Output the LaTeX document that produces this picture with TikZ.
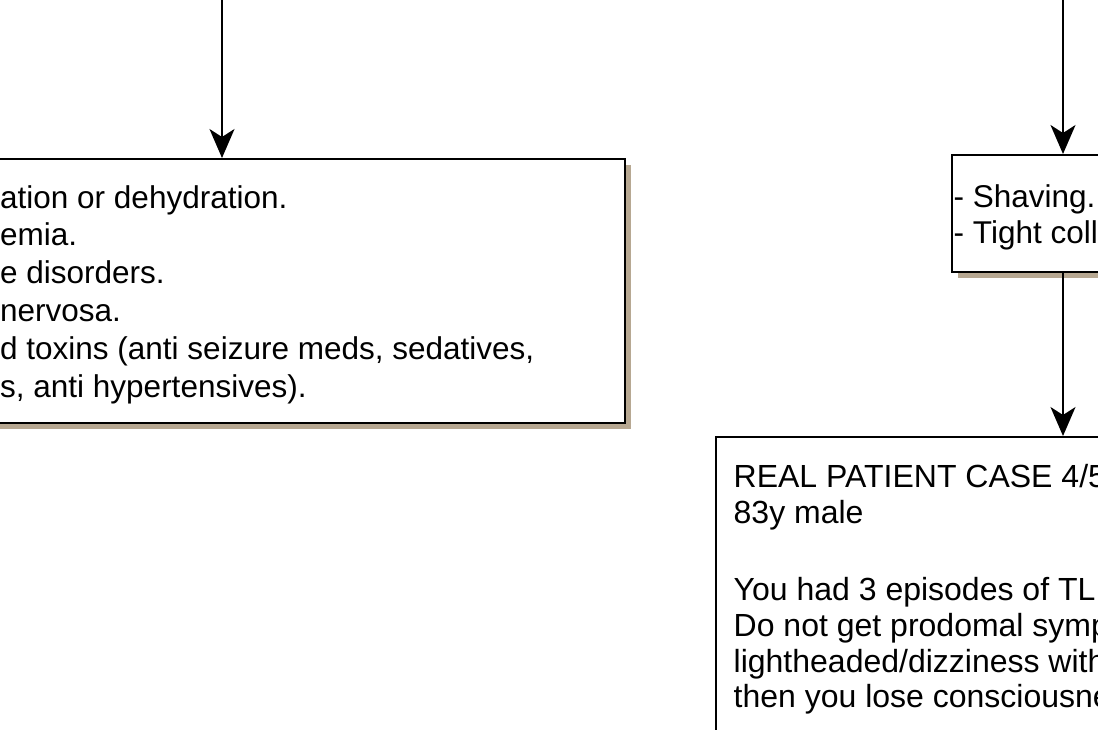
\documentclass[tikz,border=0pt]{standalone}
\usepackage{fontspec}
\setmainfont{Liberation Sans}
\usetikzlibrary{arrows.meta,shadows}
\definecolor{shadowtan}{RGB}{183,168,146}
\begin{document}
\begin{tikzpicture}[x=1pt,y=-1pt,
  box/.style={draw=black, line width=2pt, fill=white, inner sep=0pt,
    general shadow={fill=shadowtan, shadow xshift=6pt, shadow yshift=-6pt}},
  flatbox/.style={draw=black, line width=2pt, fill=white, inner sep=0pt},
  txt/.style={anchor=base west, inner sep=0pt, font=\fontsize{31.5}{35.5}\selectfont},
  bigtxt/.style={txt, font=\fontsize{32}{36}\selectfont},
  flow/.style={line width=1.7pt, -{Stealth[length=29pt,width=25pt,inset=8pt]}}]
\useasboundingbox (0,0) rectangle (1098,729);
\clip (0,0) rectangle (1098,729);

% boxes
\node[box, anchor=north east, minimum width=700pt, minimum height=264pt] (causes) at (626,158) {};
\node[box, anchor=north west, minimum width=300pt, minimum height=117pt] (triggers) at (951,154) {};
\node[flatbox, anchor=north west, minimum width=500pt, minimum height=400pt] (case) at (715,436) {};

% connectors
\coordinate (inL) at (222,0);
\coordinate (inR) at (1063,0);
\draw[flow] (inL) -- (inL |- causes.north);
\draw[flow] (inR) -- (inR |- triggers.north);
\draw[flow] (triggers.south -| inR) -- (case.north -| inR);

% left box text
\node[txt] (c1) at (0,208) {ation or dehydration.};
\node[txt] (c2) at (0,245.8) {emia.};
\node[txt] (c3) at (0,283.6) {e disorders.};
\node[txt] (c4) at (0,321.4) {nervosa.};
\node[txt] (c5) at (0,359.2) {d toxins (anti seizure meds, sedatives,};
\node[txt] (c6) at (0,397) {s, anti hypertensives).};

% trigger box text
\node[txt] (t1) at (953.5,207) {- Shaving.};
\node[txt] (t2) at (953.5,243) {- Tight coll};

% case box text
\node[bigtxt] (k1) at (733.5,487.5) {REAL PATIENT CASE 4/5};
\node[bigtxt] (k2) at (733.5,523) {83y male};
\node[bigtxt] (k3) at (733.5,600) {You had 3 episodes of TL};
\node[bigtxt] (k4) at (733.5,636) {Do not get prodomal symp};
\node[bigtxt] (k5) at (733.5,672) {lightheaded/dizziness with};
\node[bigtxt] (k6) at (733.5,707.5) {then you lose consciousne};
\end{tikzpicture}
\end{document}
